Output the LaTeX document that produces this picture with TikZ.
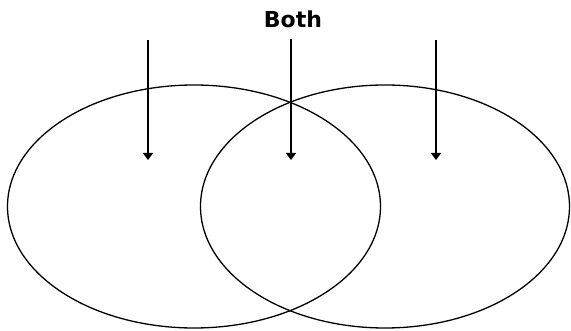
\documentclass[tikz,border=0pt]{standalone}
\usepackage{fontspec}
\newfontfamily\labelfont{DejaVu Sans}
\usetikzlibrary{shapes.geometric,arrows.meta}
\tikzset{
  setring/.style={draw=black, line width=1.3pt, ellipse, inner sep=0pt, minimum width=373pt, minimum height=243pt},
  thickarrow/.style={draw=black, line width=2.6pt, -{Triangle[length=7pt,width=10pt]}},
  thinarrow/.style={draw=black, line width=1.5pt, -{Triangle[length=7pt,width=10pt]}},
  lbl/.style={font=\labelfont\bfseries\fontsize{22}{24}\selectfont, inner sep=0pt}
}
\begin{document}
\begin{tikzpicture}[x=1pt,y=-1pt]
\useasboundingbox (0,0) rectangle (571,331);
\node[setring] (left) at (194,206.5) {};
\node[setring, minimum width=369pt] (right) at (385,206.5) {};
\node[lbl, anchor=base] (both) at (293,28) {Both};
\coordinate (l1) at (148,40);
\coordinate (l2) at (148,160);
\coordinate (m1) at (291,39);
\coordinate (m2) at (291,160);
\coordinate (r1) at (436,40);
\coordinate (r2) at (436,160);
\draw[thickarrow] (l1) -- (l2);
\draw[thinarrow] (m1) -- (m2);
\draw[thickarrow] (r1) -- (r2);
\end{tikzpicture}
\end{document}
